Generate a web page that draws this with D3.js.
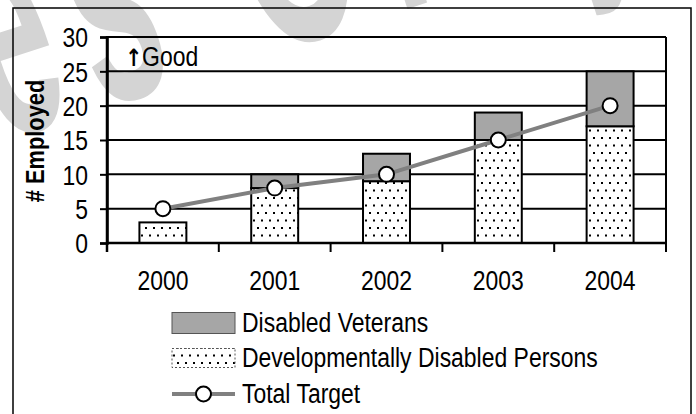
<!DOCTYPE html>
<html><head><meta charset="utf-8">
<script src="https://cdn.jsdelivr.net/npm/d3@7"></script>
<style>body{margin:0;background:#fff}svg{display:block}text{font-family:"Liberation Sans",Arial,sans-serif}</style>
</head><body><svg id="c" width="696" height="414"></svg>
<script>
const years = ["2000","2001","2002","2003","2004"];
const developmental = [3, 8, 9, 15, 17];
const veterans = [0, 2, 4, 4, 8];
const target = [5, 8, 10, 15, 20];
const yTicks = [0, 5, 10, 15, 20, 25, 30];
const legendLabels = ["Disabled Veterans", "Developmentally Disabled Persons", "Total Target"];

const svg = d3.select("#c");
const L = 107, R = 666, T = 37, B = 243;
const gray = "#a6a6a6";
const FS = 27, SX = 0.85;

function ctext(parent, x, yy, str, anchor, size) {
  return parent.append("text").attr("transform",`translate(${x},${yy}) scale(${SX},1)`)
    .attr("text-anchor",anchor||"start").attr("font-size",size||FS).text(str);
}

// watermark
svg.append("text").text("es Only")
  .attr("transform","translate(-2,142) rotate(-18) scale(0.47,1)")
  .attr("font-size",320).attr("font-weight","bold").attr("letter-spacing",50).attr("fill","#d4d4d4");

// outer frame
svg.append("rect").attr("x",13).attr("y",8).attr("width",678).attr("height",430)
  .attr("fill","none").attr("stroke","#000").attr("stroke-width",1.5);

const defs = svg.append("defs");
const pat = defs.append("pattern").attr("id","dots").attr("patternUnits","userSpaceOnUse")
  .attr("width",8).attr("height",15);
pat.append("rect").attr("width",8).attr("height",15).attr("fill","#fff");
pat.append("rect").attr("x",1).attr("y",2).attr("width",2).attr("height",2).attr("fill","#000");
pat.append("rect").attr("x",5).attr("y",9.5).attr("width",2).attr("height",2).attr("fill","#000");

const y = d3.scaleLinear().domain([0,30]).range([B,T]);
const xb = d3.scaleBand().domain(years).range([L,R]).paddingInner(0.58).paddingOuter(0.29);
const xc = d3.scaleBand().domain(years).range([L,R]).padding(0);

// gridlines
svg.append("g").selectAll("line").data(yTicks.filter(d=>d>0)).join("line")
  .attr("x1",L).attr("x2",R).attr("y1",d=>y(d)).attr("y2",d=>y(d))
  .attr("stroke","#000").attr("stroke-width",2);
svg.append("line").attr("x1",R).attr("x2",R).attr("y1",T).attr("y2",B+9)
  .attr("stroke","#000").attr("stroke-width",2);

// y axis
const ya = svg.append("g").attr("transform",`translate(${L},0)`)
  .call(d3.axisLeft(y).tickValues(yTicks).tickSize(7).tickPadding(0));
ya.attr("font-family",null).attr("font-size",null);
ya.select(".domain").attr("stroke","#000").attr("stroke-width",2.5);
ya.selectAll(".tick line").attr("stroke","#000").attr("stroke-width",2);
ya.selectAll(".tick text").attr("x",null).attr("dy","0.36em").attr("fill","#000")
  .attr("font-size",FS).attr("transform",`translate(-19,0) scale(${SX},1)`);
svg.append("line").attr("x1",L).attr("x2",L).attr("y1",T-1).attr("y2",B+9)
  .attr("stroke","#000").attr("stroke-width",2.5);

// x ticks at boundaries
const bounds = years.map(d=>xc(d)).concat([R]);
svg.append("g").selectAll("line").data(bounds).join("line")
  .attr("x1",d=>d).attr("x2",d=>d).attr("y1",B).attr("y2",B+9)
  .attr("stroke","#000").attr("stroke-width",2);
const xl = svg.append("g");
years.forEach(d=>ctext(xl, xc(d)+xc.bandwidth()/2, 290, d, "middle"));

// bars
const bars = svg.append("g");
years.forEach((yr,i)=>{
  bars.append("rect").attr("x",xb(yr)).attr("width",xb.bandwidth())
    .attr("y",y(developmental[i])).attr("height",y(0)-y(developmental[i]))
    .attr("fill","url(#dots)").attr("stroke","#000").attr("stroke-width",2);
  if (veterans[i] > 0) {
    const top = developmental[i]+veterans[i];
    bars.append("rect").attr("x",xb(yr)).attr("width",xb.bandwidth())
      .attr("y",y(top)).attr("height",y(developmental[i])-y(top))
      .attr("fill",gray).attr("stroke","#000").attr("stroke-width",2);
  }
});
svg.append("line").attr("x1",L).attr("x2",R).attr("y1",B).attr("y2",B)
  .attr("stroke","#000").attr("stroke-width",2.5);

// target line
const cx = d=>xc(d)+xc.bandwidth()/2;
svg.append("path").datum(years.map((d,i)=>[cx(d),y(target[i])]))
  .attr("d",d3.line()).attr("fill","none").attr("stroke","#808080").attr("stroke-width",4);
svg.append("g").selectAll("circle").data(years).join("circle")
  .attr("cx",d=>cx(d)).attr("cy",(d,i)=>y(target[i])).attr("r",7.5)
  .attr("fill","#fff").attr("stroke","#000").attr("stroke-width",2);

// Good label
const g = ctext(svg, 125, 66, "", "start");
g.append("tspan").attr("font-weight","bold").attr("font-family","DejaVu Sans").attr("font-size",24).text("↑");
g.append("tspan").text("Good");

// y title
svg.append("text").attr("transform",`translate(44,141) rotate(-90) scale(0.84,1)`).attr("text-anchor","middle")
  .attr("font-size",26).attr("font-weight","bold").text("# Employed");

// legend
const lx = 172, lw = 63;
const rows = [323, 358, 394];
svg.append("rect").attr("x",lx).attr("y",rows[0]-10.5).attr("width",lw).attr("height",21)
  .attr("fill",gray).attr("stroke","#555").attr("stroke-width",1);
svg.append("rect").attr("x",lx).attr("y",rows[1]-9.5).attr("width",lw).attr("height",19)
  .attr("fill","url(#dots)").attr("stroke","#555").attr("stroke-width",1).attr("stroke-dasharray","2,2");
svg.append("line").attr("x1",lx).attr("x2",lx+lw).attr("y1",rows[2]).attr("y2",rows[2])
  .attr("stroke","#808080").attr("stroke-width",4);
svg.append("circle").attr("cx",lx+lw/2).attr("cy",rows[2]).attr("r",7.5)
  .attr("fill","#fff").attr("stroke","#000").attr("stroke-width",2);
const lg = svg.append("g");
legendLabels.forEach((d,i)=>ctext(lg, 242, rows[i]+9, d, "start"));
</script></body></html>
